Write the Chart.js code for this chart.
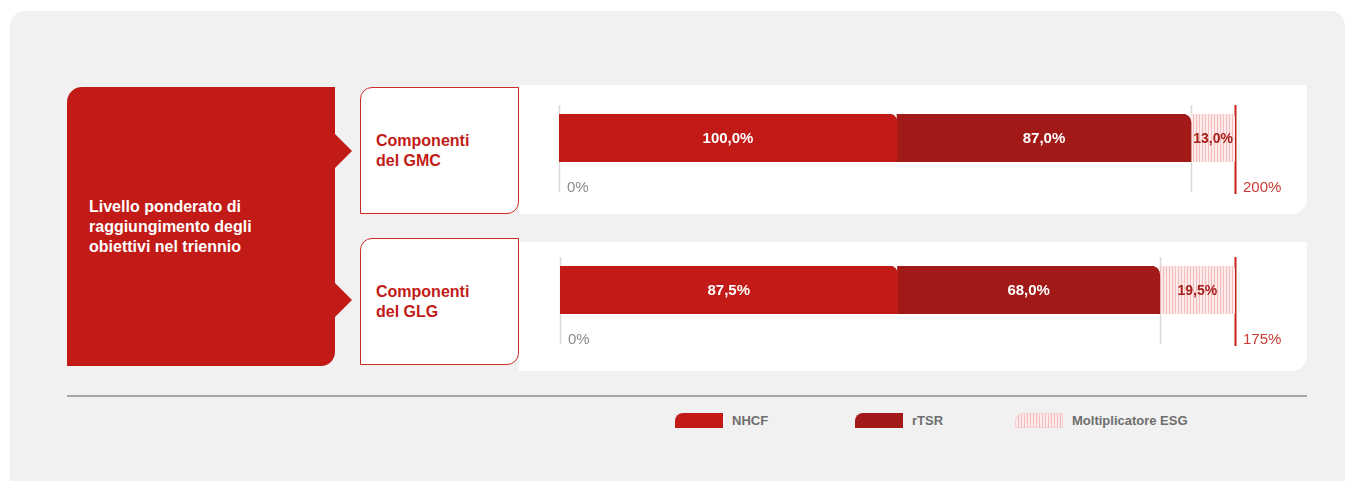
<!DOCTYPE html>
<html>
<head>
<meta charset="utf-8">
<script src="https://cdn.jsdelivr.net/npm/chart.js@4.4.1/dist/chart.umd.min.js"></script>
<style>
  html, body { margin: 0; padding: 0; background: #fff; }
  body { width: 1355px; height: 482px; position: relative; overflow: hidden;
         font-family: "Liberation Sans", Arial, sans-serif; }
  .bg { position: absolute; left: 10px; top: 11px; width: 1335px; height: 470px;
        background: #f1f1f1; border-radius: 15px 15px 0 0; }
  .lead { position: absolute; left: 67px; top: 87px; width: 268px; height: 279px;
          background: #c21b17; border-radius: 15px 0 14px 0; color: #fff;
          font-weight: bold; font-size: 16px; line-height: 20px;
          display: flex; align-items: center; box-sizing: border-box; padding: 0 0 0 22px; }
  .arrow { position: absolute; left: 335px; width: 0; height: 0;
           border-top: 17px solid transparent; border-bottom: 17px solid transparent;
           border-left: 17px solid #c21b17; }
  .comp { position: absolute; left: 360px; width: 159px; height: 127px; box-sizing: border-box;
          border: 1.6px solid #cc2a25; border-radius: 12px 0 12px 0; background: #fff;
          color: #c21b17; font-weight: bold; font-size: 16px; line-height: 20px;
          display: flex; align-items: center; padding-left: 15px; }
  .panel { position: absolute; left: 519px; width: 788px; height: 129px; background: #fff;
           border-radius: 0 0 15px 0; }
  .panel canvas { position: absolute; left: 0; top: 0; }
  .rule { position: absolute; left: 67px; top: 395px; width: 1240px; height: 2px; background: #a8a8a8; }
  .legend { position: absolute; left: 675px; top: 413px; display: flex; align-items: center;
            font-size: 13px; font-weight: bold; color: #6e6e6e; }
  .legend .item { display: flex; align-items: center; }
  .legend .item:nth-child(1) { width: 180px; }
  .legend .item:nth-child(2) { width: 160px; }
  .legend .sw { width: 48px; height: 15px; border-radius: 8px 0 0 0; margin-right: 9px; box-sizing: border-box; }
</style>
</head>
<body>
<div class="bg"></div>
<div class="lead" id="lead"></div>
<div class="arrow" style="top:134px"></div>
<div class="arrow" style="top:283px"></div>
<div class="comp" id="comp0" style="top:87px"></div>
<div class="comp" id="comp1" style="top:238px"></div>
<div class="panel" style="top:85px"><canvas id="chart0" width="788" height="129"></canvas></div>
<div class="panel" style="top:242px"><canvas id="chart1" width="788" height="129"></canvas></div>
<div class="rule"></div>
<div class="legend" id="legend"></div>

<script>
const leadText = ['Livello ponderato di', 'raggiungimento degli', 'obiettivi nel triennio'];
const categories = [['Componenti', 'del GMC'], ['Componenti', 'del GLG']];
const seriesNames = ['NHCF', 'rTSR', 'Moltiplicatore ESG'];
const nhcf = [100.0, 87.5];
const rtsr = [87.0, 68.0];
const esg = [13.0, 19.5];
const axisMax = [200, 175];

const red = '#c21b17';
const darkRed = '#a11a18';

document.getElementById('lead').innerHTML = '<div>' + leadText.join('<br>') + '</div>';
categories.forEach(function (c, i) {
    document.getElementById('comp' + i).innerHTML = '<div>' + c.join('<br>') + '</div>';
});

// striped fill for the ESG multiplier
function stripes() {
    var p = document.createElement('canvas');
    p.width = 3; p.height = 3;
    var c = p.getContext('2d');
    c.fillStyle = '#fdeaea';
    c.fillRect(0, 0, 3, 3);
    c.fillStyle = '#f5bcbc';
    c.fillRect(2, 0, 1, 3);
    return c.createPattern(p, 'repeat');
}

function fmt(v) {
    return v.toFixed(1).replace('.', ',') + '%';
}

function corner(r) {
    return { topLeft: 0, topRight: r, bottomLeft: 0, bottomRight: 0 };
}

const markers = {
    id: 'markers',
    beforeDatasetsDraw(chart) {
        const ctx = chart.ctx, a = chart.chartArea, x = chart.scales.x;
        const i = chart.options.plugins.markers.index;
        const lines = [
            [0, '#d8d8d8', 1.5],
            [nhcf[i] + rtsr[i], '#d8d8d8', 1.5],
            [axisMax[i], '#c8201b', 2]
        ];
        ctx.save();
        lines.forEach(function (l) {
            const px = Math.round(x.getPixelForValue(l[0])) + 0.5;
            ctx.strokeStyle = l[1];
            ctx.lineWidth = l[2];
            ctx.beginPath();
            ctx.moveTo(px, a.top - 9);
            ctx.lineTo(px, a.bottom + (l[2] > 1.5 ? 32 : 30));
            ctx.stroke();
        });
        ctx.font = '15px "Liberation Sans", Arial, sans-serif';
        ctx.textBaseline = 'middle';
        ctx.textAlign = 'left';
        ctx.fillStyle = '#8c8c8c';
        ctx.fillText('0%', x.getPixelForValue(0) + 8, a.bottom + 26);
        ctx.fillStyle = '#cc3a35';
        ctx.fillText(axisMax[i] + '%', x.getPixelForValue(axisMax[i]) + 8, a.bottom + 26);
        ctx.restore();
    },
    afterDatasetsDraw(chart) {
        const ctx = chart.ctx;
        ctx.save();
        ctx.textAlign = 'center';
        ctx.textBaseline = 'middle';
        chart.data.datasets.forEach(function (ds, d) {
            chart.getDatasetMeta(d).data.forEach(function (bar, j) {
                const p = bar.getProps(['x', 'y', 'base']);
                ctx.font = 'bold ' + (d === 2 ? 14 : 15) + 'px "Liberation Sans", Arial, sans-serif';
                ctx.fillStyle = d === 2 ? '#a8201c' : '#fff';
                ctx.fillText(fmt(ds.data[j]), (p.x + p.base) / 2, p.y + 1);
            });
        });
        ctx.restore();
    }
};

const pads = [
    { left: 40, right: 72, top: 29, bottom: 52 },
    { left: 41, right: 72, top: 24, bottom: 57 }
];

[0, 1].forEach(function (i) {
    const ctx = document.getElementById('chart' + i);
    const pattern = stripes();
    new Chart(ctx, {
        type: 'bar',
        data: {
            labels: [categories[i].join(' ')],
            datasets: [{
                label: seriesNames[0],
                data: [nhcf[i]],
                backgroundColor: red,
                borderRadius: corner(8),
                borderSkipped: false
            }, {
                label: seriesNames[1],
                data: [rtsr[i]],
                backgroundColor: darkRed,
                borderRadius: corner(9),
                borderSkipped: false
            }, {
                label: seriesNames[2],
                data: [esg[i]],
                backgroundColor: pattern,
                borderRadius: corner(5),
                borderSkipped: false
            }]
        },
        options: {
            indexAxis: 'y',
            responsive: false,
            animation: false,
            layout: { padding: pads[i] },
            datasets: { bar: { barPercentage: 1, categoryPercentage: 1 } },
            scales: {
                x: { stacked: true, min: 0, max: axisMax[i], display: false },
                y: { stacked: true, display: false }
            },
            plugins: {
                legend: { display: false },
                tooltip: { enabled: false },
                markers: { index: i }
            }
        },
        plugins: [markers]
    });
});

// legend
const swatches = [red, darkRed, 'repeating-linear-gradient(90deg, #fdeaea 0 2px, #f5bcbc 2px 3px)'];
document.getElementById('legend').innerHTML = seriesNames.map(function (n, k) {
    const border = k === 2 ? 'border:1px solid #f8d0d0;' : '';
    return '<div class="item"><div class="sw" style="background:' + swatches[k] + ';' + border + '"></div>' + n + '</div>';
}).join('');
</script>
</body>
</html>
